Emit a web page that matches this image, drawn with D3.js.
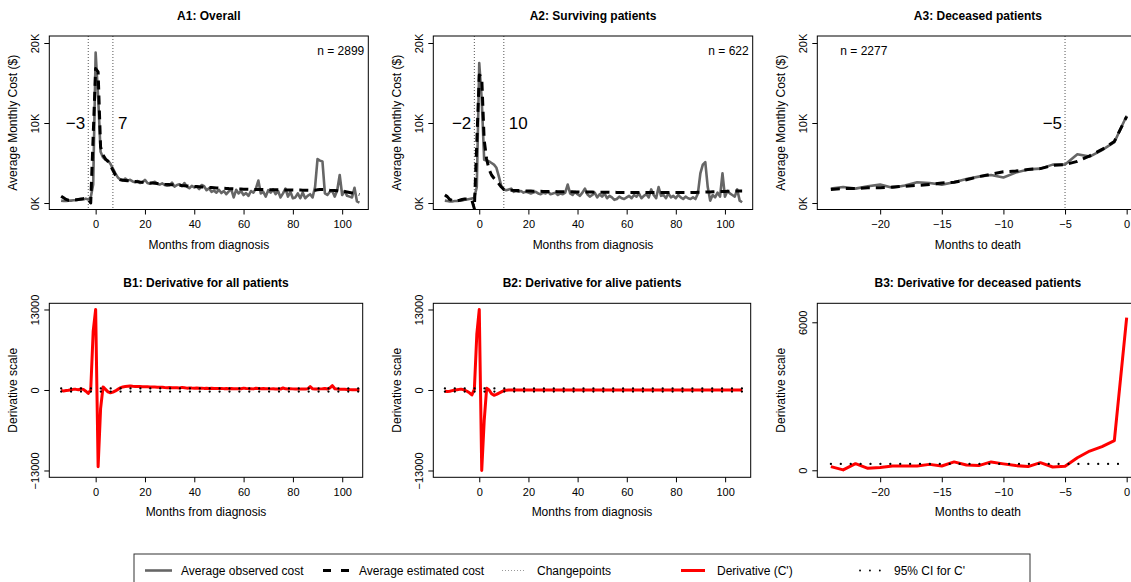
<!DOCTYPE html>
<html>
<head>
<meta charset="utf-8">
<script src="https://cdn.jsdelivr.net/npm/d3@7"></script>
<style>
  body { margin: 0; background: #fff; }
  svg { display: block; font-family: "Liberation Sans", Arial, Helvetica, sans-serif; }
</style>
</head>
<body>
<svg id="chart" width="1131" height="582"></svg>
<script>
// months from diagnosis (-14 .. 107) and months to death (-24 .. 0)
var monthsDx = d3.range(-14, 108);
var monthsDeath = d3.range(-24, 1);

// A1: overall
var a1Observed = [
  300, 250, 250, 300, 300, 350, 350, 400, 400, 450, 550, 450, 700, 2300,
  18800, 13300, 6400, 5700, 5400, 5300, 4900, 4300, 3700, 3200, 2950,
  2850, 3050, 2800, 2900, 2700, 2600, 2750, 2500, 2600, 2900,
  2500, 2400, 2550, 2650, 2400, 2300, 2450, 2250, 2150, 2200,
  2550, 2050, 2250, 2350, 2100, 2500, 2050, 1850, 2150, 1950,
  2050, 1750, 2250, 2100, 1600, 1850, 1400, 1550, 1300, 1650,
  1250, 1500, 1100, 1450, 1750, 700, 1650, 1200, 1500, 1000,
  1250, 900, 1500, 1300, 1800, 2800, 1200, 1400, 800, 1600,
  1300, 1700, 1100, 1500, 700, 1200, 1800, 800, 1400, 600,
  700, 1200, 600, 1300, 600, 900, 1100, 700, 2000, 5500,
  5300, 5200, 1200, 1000, 1400, 1500, 800, 1600, 3500, 1000,
  1500, 900, 800, 700, 1900, 200, 50
];
var a1Estimated = [
  850, 650, 450, 350, 350, 400, 400, 450, 500, 550, 550, 450, 0, 8400,
  16800, 16400, 7000, 6000, 5500, 5200, 4700, 4100, 3500, 3100, 2900,
  2850, 2820, 2780, 2760, 2720, 2690, 2660, 2620, 2600, 2570,
  2540, 2510, 2490, 2460, 2430, 2400, 2380, 2350, 2330, 2300,
  2280, 2250, 2230, 2210, 2180, 2160, 2140, 2110, 2090, 2070,
  2050, 2030, 2010, 1990, 1970, 1950, 1930, 1910, 1890, 1870,
  1850, 1840, 1820, 1800, 1790, 1770, 1760, 1750, 1740, 1730,
  1720, 1710, 1700, 1700, 1690, 1690, 1680, 1680, 1670, 1670,
  1660, 1660, 1650, 1650, 1640, 1640, 1640, 1630, 1630, 1630,
  1620, 1620, 1620, 1610, 1610, 1610, 1600, 1600, 1600, 1650,
  1700, 1700, 1700, 1650, 1600, 1580, 1560, 1540, 1520, 1480,
  1430, 1380, 1320, 1260, 1200, 1130, 1060
];

// A2: surviving patients
var a2Observed = [
  300, 250, 200, 200, 250, 250, 300, 300, 400, 450, 500, 550, 700, 2000,
  17500, 13000, 5400, 5300, 5200, 5000, 4800, 4400, 3300, 2100, 1700,
  1600, 1700, 1800, 1400, 1500, 1400, 1500, 1300, 1400, 1300,
  1200, 1300, 1400, 1200, 1100, 1300, 1200, 1400, 1100, 1200,
  1300, 1000, 1200, 1100, 1300, 2300, 1200, 1000, 1400, 1100,
  900, 1300, 1800, 1100, 800, 1000, 1300, 700, 1100, 800,
  1200, 600, 900, 700, 400, 500, 800, 600, 500, 700,
  900, 600, 1000, 800, 1200, 600, 900, 1100, 700, 1700,
  1000, 600, 2000, 900, 1000, 600, 1200, 700, 900, 600,
  1000, 700, 500, 800, 600, 500, 700, 500, 1200, 3700,
  4800, 5100, 2000, 300, 1000, 700, 1300, 800, 3700, 800,
  1500, 1200, 1000, 800, 1700, 300, 100
];
var a2Estimated = [
  1000, 800, 450, 300, 250, 300, 350, 450, 500, 500, 450, 350, -700, 7500,
  16000, 15800, 7900, 5500, 4200, 3500, 3100, 2800, 2400, 2000, 1700,
  1650, 1600, 1600, 1580, 1560, 1550, 1530, 1520, 1500, 1500,
  1490, 1480, 1470, 1460, 1460, 1450, 1450, 1440, 1440, 1430,
  1430, 1420, 1420, 1410, 1410, 1400, 1400, 1400, 1390, 1390,
  1380, 1380, 1380, 1370, 1370, 1370, 1360, 1360, 1360, 1350,
  1350, 1350, 1340, 1340, 1340, 1330, 1330, 1330, 1320, 1320,
  1320, 1320, 1310, 1310, 1310, 1310, 1300, 1300, 1300, 1300,
  1300, 1300, 1300, 1300, 1300, 1300, 1300, 1300, 1300, 1300,
  1300, 1300, 1300, 1300, 1300, 1310, 1320, 1330, 1340, 1350,
  1360, 1370, 1380, 1390, 1400, 1410, 1420, 1430, 1440, 1450,
  1460, 1470, 1480, 1490, 1500, 1500, 1500
];

// A3: deceased patients
var a3Observed = [
  1800, 2000, 1800, 2100, 2300, 1900, 2200, 2600, 2500, 2300, 2600, 3000, 3300,
  3500, 3200, 3800, 4200, 4300, 4800, 4800, 6100, 5800, 6600, 7600, 10900
];
var a3Estimated = [
  1700, 1800, 1800, 1900, 1900, 2000, 2100, 2200, 2300, 2500, 2600, 2900, 3300,
  3600, 3900, 4000, 4200, 4300, 4700, 4800, 5200, 5900, 6700, 7700, 10800
];

// B1: derivative for all patients
var b1Derivative = [
  -100, -150, -100, -50, 50, 100, 100, 50, 150, 100, -200, -550, 0, 9500,
  13000, -12400, -3000, 500, 100, -300, -450, -350, -150, 100, 350,
  500, 550, 600, 650, 600, 580, 560, 550, 540, 520,
  530, 500, 480, 470, 460, 450, 430, 400, 380, 400,
  380, 360, 350, 330, 420, 360, 300, 330, 310, 300,
  320, 280, 300, 260, 290, 250, 270, 240, 260, 230,
  250, 220, 240, 200, 230, 210, 190, 220, 200, 300,
  250, 220, 200, 180, 270, 250, 200, 230, 190, 220,
  180, 200, 150, 170, 160, 320, 190, 170, 200, 180,
  150, 170, 140, 160, 150, 200, 550, 200, 150, 170,
  180, 200, 250, 150, 350, 700, 200, 150, 120, 100,
  100, 80, 60, 50, 40, 30, 20
];

// B2: derivative for alive patients
var b2Derivative = [
  -200, -250, -200, -100, 0, 50, 100, 100, 0, -200, -450, -800, 100, 9000,
  13000, -13000, -5000, 300, 0, -600, -850, -700, -500, -300, -100,
  -50, -20, 0, 0, 0, 0, 0, 0, 0, 0,
  0, 0, 0, 0, 0, 0, 0, 0, 0, 0,
  0, 0, 0, 0, 0, 0, 0, 0, 0, 0,
  0, 0, 0, 0, 0, 0, 0, 0, 0, 0,
  0, 0, 0, 0, 0, 0, 0, 0, 0, 0,
  0, 0, 0, 0, 0, 0, 0, 0, 0, 0,
  0, 0, 0, 0, 0, 0, 0, 0, 0, 0,
  0, 0, 0, 0, 0, 0, 0, 0, 0, 0,
  0, 0, 0, 0, 0, 0, 0, 0, 0, 0,
  0, 0, 0, 0, 0, 0, 0
];

// B3: derivative for deceased patients
var b3Derivative = [
  150, 15, 270, 80, 110, 175, 175, 175, 240, 175, 340, 215, 190,
  340, 260, 190, 150, 310, 135, 160, 510, 780, 960, 1200, 6190
];

// 95% CI for C'
var ciMonthsDx = [-14, 107];
var ciMonthsDeath = [-24, 0];
var b1CiUpper = [260, 260], b1CiLower = [-260, -260];
var b2CiUpper = [260, 260], b2CiLower = [-260, -260];
var b3CiUpper = [260, 260];

// tick labels
var xTicksDx = [0, 20, 40, 60, 80, 100];
var xTicksDeath = [-20, -15, -10, -5, 0];
var yTicksCost = [0, 10000, 20000];
var yTicksDeriv = [-13000, 0, 13000];
var yTicksDerivDeath = [0, 6000];

var legendLabels = ["Average observed cost", "Average estimated cost", "Changepoints", "Derivative (C')", "95% CI for C'"];

var svg = d3.select("#chart");
var clipCount = 0;

var minus = function (d) { return d < 0 ? "\u2212" + (-d) : String(d); };
var kFmt = function (d) { return (d / 1000) + "K"; };

var observedStyle = { stroke: "#666", width: 2.6 };
var estimatedStyle = { stroke: "#000", width: 3, dash: "9,6" };
var derivStyle = { stroke: "#ff0000", width: 3 };
var ciStyle = { stroke: "#000", width: 2.2, dash: "0.1,9.8", cap: "round" };

function panel(p) {
	var x = d3.scaleLinear().domain(p.xDomain).range([p.left, p.right]);
	var y = d3.scaleLinear().domain(p.yDomain).range([p.bottom, p.top]);
	var g = svg.append("g");

	var id = "clip" + (clipCount++);
	g.append("clipPath").attr("id", id)
		.append("rect")
		.attr("x", p.left).attr("y", p.top)
		.attr("width", p.right - p.left).attr("height", p.bottom - p.top);

	// title
	g.append("text")
		.attr("x", (p.left + p.right) / 2)
		.attr("y", p.top - 16)
		.attr("text-anchor", "middle")
		.attr("font-weight", "bold")
		.attr("font-size", 12)
		.text(p.title);

	// x axis
	var xa = g.append("g")
		.attr("transform", "translate(0," + p.bottom + ")")
		.call(d3.axisBottom(x).tickValues(p.xTicks).tickSize(5).tickFormat(minus));
	xa.select(".domain").remove();
	xa.attr("font-family", null).attr("font-size", 11);
	xa.selectAll("text").attr("y", 15).attr("dy", "0.36em").attr("fill", "#000");

	// y axis, labels parallel to the axis
	var ya = g.append("g")
		.attr("transform", "translate(" + p.left + ",0)")
		.call(d3.axisLeft(y).tickValues(p.yTicks).tickSize(5).tickFormat(p.yFmt));
	ya.select(".domain").remove();
	ya.attr("font-family", null).attr("font-size", 11);
	ya.selectAll("text")
		.attr("x", null).attr("dy", null)
		.attr("text-anchor", "middle")
		.attr("fill", "#000")
		.attr("transform", "translate(-10,0) rotate(-90)");

	// axis titles
	g.append("text")
		.attr("x", (p.left + p.right) / 2)
		.attr("y", p.bottom + 39)
		.attr("text-anchor", "middle")
		.attr("font-size", 12)
		.text(p.xLabel);

	g.append("text")
		.attr("text-anchor", "middle")
		.attr("font-size", 12)
		.attr("transform", "translate(" + (p.left - 32) + "," + ((p.top + p.bottom) / 2) + ") rotate(-90)")
		.text(p.yLabel);

	var plot = g.append("g").attr("clip-path", "url(#" + id + ")");

	// changepoints
	(p.changepoints || []).forEach(function (c) {
		plot.append("line")
			.attr("x1", x(c.at)).attr("x2", x(c.at))
			.attr("y1", p.top).attr("y2", p.bottom)
			.attr("stroke", "#555")
			.attr("stroke-width", 1)
			.attr("stroke-dasharray", "1,2");
		g.append("text")
			.attr("x", x(c.at) + (c.side == "left" ? -3 : 5))
			.attr("y", y(10000) + 6)
			.attr("text-anchor", c.side == "left" ? "end" : "start")
			.attr("font-size", 17)
			.text(minus(c.at));
	});

	// series
	p.series.forEach(function (s) {
		var line = d3.line()
			.x(function (d, i) { return x(s.months[i]); })
			.y(function (d) { return y(d); });
		plot.append("path")
			.datum(s.values)
			.attr("d", line)
			.attr("fill", "none")
			.attr("stroke", s.style.stroke)
			.attr("stroke-width", s.style.width)
			.attr("stroke-dasharray", s.style.dash || null)
			.attr("stroke-linecap", s.style.cap || "butt")
			.attr("stroke-linejoin", "round");
	});

	if (p.n) {
		g.append("text")
			.attr("x", p.n.anchor == "end" ? p.right - 4 : p.left + 23)
			.attr("y", p.top + 19)
			.attr("text-anchor", p.n.anchor)
			.attr("font-size", 12)
			.text(p.n.text);
	}

	// frame
	g.append("rect")
		.attr("x", p.left).attr("y", p.top)
		.attr("width", p.right - p.left).attr("height", p.bottom - p.top)
		.attr("fill", "none")
		.attr("stroke", "#000")
		.attr("stroke-width", 1);
}

var costLabel = "Average Monthly Cost ($)";
var derivLabel = "Derivative scale";
var dxLabel = "Months from diagnosis";
var deathLabel = "Months to death";

panel({
	title: "A1: Overall", left: 49.3, right: 368.3, top: 36, bottom: 209.5,
	xDomain: [-18.8, 110.6], yDomain: [-810, 20875],
	xTicks: xTicksDx, yTicks: yTicksCost, yFmt: kFmt,
	xLabel: dxLabel, yLabel: costLabel,
	changepoints: [{ at: -3, side: "left" }, { at: 7, side: "right" }],
	n: { text: "n = 2899", anchor: "end" },
	series: [
		{ months: monthsDx, values: a1Observed, style: observedStyle },
		{ months: monthsDx, values: a1Estimated, style: estimatedStyle }
	]
});

panel({
	title: "A2: Surviving patients", left: 433.3, right: 752.7, top: 36, bottom: 209.5,
	xDomain: [-18.7, 111.3], yDomain: [-810, 20875],
	xTicks: xTicksDx, yTicks: yTicksCost, yFmt: kFmt,
	xLabel: dxLabel, yLabel: costLabel,
	changepoints: [{ at: -2, side: "left" }, { at: 10, side: "right" }],
	n: { text: "n = 622", anchor: "end" },
	series: [
		{ months: monthsDx, values: a2Observed, style: observedStyle },
		{ months: monthsDx, values: a2Estimated, style: estimatedStyle }
	]
});

panel({
	title: "A3: Deceased patients", left: 817.3, right: 1138.5, top: 36, bottom: 209.5,
	xDomain: [-25.1, 0.96], yDomain: [-810, 20875],
	xTicks: xTicksDeath, yTicks: yTicksCost, yFmt: kFmt,
	xLabel: deathLabel, yLabel: costLabel,
	changepoints: [{ at: -5, side: "left" }],
	n: { text: "n = 2277", anchor: "start" },
	series: [
		{ months: monthsDeath, values: a3Observed, style: observedStyle },
		{ months: monthsDeath, values: a3Estimated, style: estimatedStyle }
	]
});

panel({
	title: "B1: Derivative for all patients", left: 49.3, right: 362.7, top: 303.3, bottom: 477.3,
	xDomain: [-18.8, 108.3], yDomain: [-14100, 14000],
	xTicks: xTicksDx, yTicks: yTicksDeriv, yFmt: minus,
	xLabel: dxLabel, yLabel: derivLabel,
	series: [
		{ months: monthsDx, values: b1Derivative, style: derivStyle },
		{ months: ciMonthsDx, values: b1CiUpper, style: ciStyle },
		{ months: ciMonthsDx, values: b1CiLower, style: ciStyle }
	]
});

panel({
	title: "B2: Derivative for alive patients", left: 433.3, right: 750.7, top: 303.3, bottom: 477.3,
	xDomain: [-18.7, 110.4], yDomain: [-14100, 14000],
	xTicks: xTicksDx, yTicks: yTicksDeriv, yFmt: minus,
	xLabel: dxLabel, yLabel: derivLabel,
	series: [
		{ months: monthsDx, values: b2Derivative, style: derivStyle },
		{ months: ciMonthsDx, values: b2CiUpper, style: ciStyle },
		{ months: ciMonthsDx, values: b2CiLower, style: ciStyle }
	]
});

panel({
	title: "B3: Derivative for deceased patients", left: 817.3, right: 1138.5, top: 303.3, bottom: 477.3,
	xDomain: [-25.1, 0.96], yDomain: [-284, 6770],
	xTicks: xTicksDeath, yTicks: yTicksDerivDeath, yFmt: minus,
	xLabel: deathLabel, yLabel: derivLabel,
	series: [
		{ months: monthsDeath, values: b3Derivative, style: derivStyle },
		{ months: ciMonthsDeath, values: b3CiUpper, style: ciStyle }
	]
});

// legend
var legend = svg.append("g");
legend.append("rect")
	.attr("x", 134).attr("y", 554)
	.attr("width", 896).attr("height", 36)
	.attr("fill", "none").attr("stroke", "#333").attr("stroke-width", 1);

var legendItems = [
	{ x1: 145, x2: 172, text: 181, style: observedStyle },
	{ x1: 323, x2: 350, text: 359, style: { stroke: "#000", width: 3, dash: "8,10" } },
	{ x1: 502, x2: 524, text: 537, style: { stroke: "#999", width: 1, dash: "1,2" } },
	{ x1: 681, x2: 705, text: 717, style: derivStyle },
	{ x1: 860, x2: 882, text: 894, style: { stroke: "#000", width: 1.8, dash: "0.1,9.8", cap: "round" } }
];
var yLeg = 570.5;
legendItems.forEach(function (it, i) {
	legend.append("line")
		.attr("x1", it.x1).attr("x2", it.x2)
		.attr("y1", yLeg).attr("y2", yLeg)
		.attr("stroke", it.style.stroke)
		.attr("stroke-width", it.style.width)
		.attr("stroke-dasharray", it.style.dash || null)
		.attr("stroke-linecap", it.style.cap || "butt");
	legend.append("text")
		.attr("x", it.text).attr("y", yLeg + 4.3)
		.attr("font-size", 12)
		.text(legendLabels[i]);
});
</script>
</body>
</html>
